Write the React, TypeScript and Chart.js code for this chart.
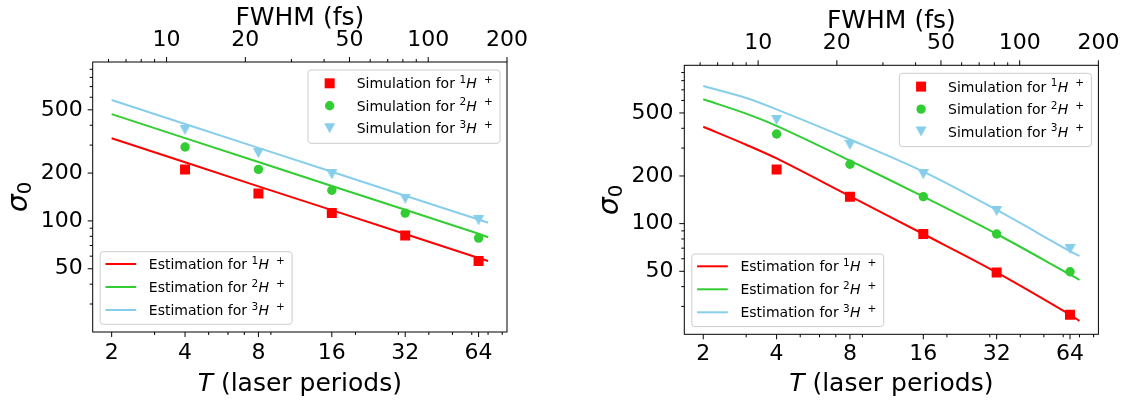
import React, { useEffect, useRef } from 'react';
import { Chart, registerables } from 'chart.js';

Chart.register(...registerables);

// ---------------- data ----------------
const T_TICKS = [2, 4, 8, 16, 32, 64];
const FWHM_TICKS = [10, 20, 50, 100, 200];
const SIGMA_TICKS = [50, 100, 200, 500];
const T_MINOR = [3, 5, 6, 7, 9, 20, 30, 40, 50, 60, 70, 80];
const FWHM_MINOR = [6, 7, 8, 9, 30, 40, 60, 70, 80, 90];
const SIGMA_MINOR = [30, 40, 60, 70, 80, 90, 300, 400, 600, 700, 800, 900];

const ISOTOPES = ['1', '2', '3'];

const T_SIM = [4, 8, 16, 32, 64];

// left panel
const simA_H1 = [211, 149, 112, 81, 56];
const simA_H2 = [292, 211, 156, 112, 78];
const simA_H3 = [374, 267, 196, 138, 101];
const T_EST_A = [2, 4, 8, 16, 32, 64, 70];
const estA_H1 = [331, 234, 165, 117, 82.7, 58.4, 56];
const estA_H2 = [470, 332, 235, 166, 117.5, 83, 79];
const estA_H3 = [576, 407, 288, 204, 144, 102, 97.3];

// right panel
const simB_H1 = [220, 148, 86, 49.2, 26.6];
const simB_H2 = [368, 237, 148, 86, 49.7];
const simB_H3 = [451, 314, 205, 120, 68.9];
const T_EST_B = [2, 3, 4, 8, 16, 32, 64, 70];
const estB_H1 = [409, 315, 258, 149, 86, 49.2, 26.6, 24.3];
const estB_H2 = [610, 495, 414, 250, 148, 86, 47.7, 44.2];
const estB_H3 = [740, 622, 527, 340, 213, 122, 67, 62.5];

// ---------------- style ----------------
const RED = '#ff0000';
const GREEN = '#32cd32';
const BLUE = '#87ceeb';
const COLORS = [RED, GREEN, BLUE];
const FONT = '"DejaVu Sans", sans-serif';
const H = 401;

type Panel = {
  sim: number[][];
  estT: number[];
  est: number[][];
  smooth: number;
  canvasLeft: number;
  canvasWidth: number;
  ca: { l: number; r: number; t: number; b: number };
  pad: { x: number; x2: number; y: number };
  titles: { xBase: number; x2Base: number; yCx: number };
};

const LEFT: Panel = {
  sim: [simA_H1, simA_H2, simA_H3],
  estT: T_EST_A,
  est: [estA_H1, estA_H2, estA_H3],
  smooth: 0,
  canvasLeft: 0,
  canvasWidth: 565,
  ca: { l: 92.7, r: 507, t: 62, b: 332 },
  pad: { x: 10, x2: 10.5, y: 10 },
  titles: { xBase: 391, x2Base: 24.5, yCx: 21 },
};

const RIGHT: Panel = {
  sim: [simB_H1, simB_H2, simB_H3],
  estT: T_EST_B,
  est: [estB_H1, estB_H2, estB_H3],
  smooth: 0.35,
  canvasLeft: 565,
  canvasWidth: 600,
  ca: { l: 119.3, r: 533.4, t: 65.3, b: 334.3 },
  pad: { x: 9.4, x2: 11, y: 10.7 },
  titles: { xBase: 391, x2Base: 28.4, yCx: 47.6 },
};

function makeTriangle(color: string) {
  const c = document.createElement('canvas');
  c.width = 11;
  c.height = 10;
  const g = c.getContext('2d')!;
  g.fillStyle = color;
  g.beginPath();
  g.moveTo(0, 0);
  g.lineTo(11, 0);
  g.lineTo(5.5, 10);
  g.closePath();
  g.fill();
  return c;
}

function drawMarker(ctx: CanvasRenderingContext2D, k: number, x: number, y: number) {
  ctx.fillStyle = COLORS[k];
  ctx.beginPath();
  if (k === 0) {
    ctx.rect(x - 5, y - 5, 10, 10);
  } else if (k === 1) {
    ctx.arc(x, y, 4.7, 0, Math.PI * 2);
  } else {
    ctx.moveTo(x - 5.5, y - 5);
    ctx.lineTo(x + 5.5, y - 5);
    ctx.lineTo(x, y + 5);
    ctx.closePath();
  }
  ctx.fill();
}

function mathLabel(ctx: CanvasRenderingContext2D, prefix: string, iso: string, x: number, base: number, draw: boolean) {
  let cx = x;
  ctx.font = `14px ${FONT}`;
  if (draw) ctx.fillText(prefix, cx, base);
  cx += ctx.measureText(prefix).width;
  ctx.font = `10.5px ${FONT}`;
  if (draw) ctx.fillText(iso, cx, base - 5.5);
  cx += ctx.measureText(iso).width + 0.3;
  ctx.font = `italic 14px ${FONT}`;
  if (draw) ctx.fillText('H', cx, base);
  cx += ctx.measureText('H').width + 7;
  ctx.font = `10.5px ${FONT}`;
  if (draw) ctx.fillText('+', cx, base - 5.5);
  cx += ctx.measureText('+').width;
  return cx - x;
}

function roundRect(ctx: CanvasRenderingContext2D, x: number, y: number, w: number, h: number, r: number) {
  ctx.beginPath();
  ctx.moveTo(x + r, y);
  ctx.lineTo(x + w - r, y);
  ctx.arcTo(x + w, y, x + w, y + r, r);
  ctx.lineTo(x + w, y + h - r);
  ctx.arcTo(x + w, y + h, x + w - r, y + h, r);
  ctx.lineTo(x + r, y + h);
  ctx.arcTo(x, y + h, x, y + h - r, r);
  ctx.lineTo(x, y + r);
  ctx.arcTo(x, y, x + r, y, r);
  ctx.closePath();
}

function legendBox(ctx: CanvasRenderingContext2D, x: number, y: number, w: number, h: number) {
  roundRect(ctx, x, y, w, h, 3);
  ctx.fillStyle = 'rgba(255,255,255,0.8)';
  ctx.fill();
  ctx.strokeStyle = '#cccccc';
  ctx.lineWidth = 1;
  ctx.stroke();
}

function makeDecor(panel: Panel) {
  return {
    id: 'decor',
    afterDraw(chart: any) {
      const ctx: CanvasRenderingContext2D = chart.ctx;
      const ca = chart.chartArea;
      const xs = chart.scales.x;
      const x2 = chart.scales.x2;
      const ys = chart.scales.y;
      ctx.save();
      // frame
      ctx.strokeStyle = '#000';
      ctx.lineWidth = 1;
      ctx.strokeRect(ca.left, ca.top, ca.right - ca.left, ca.bottom - ca.top);
      const seg = (a: number, b: number, c: number, d: number) => {
        ctx.beginPath();
        ctx.moveTo(a, b);
        ctx.lineTo(c, d);
        ctx.stroke();
      };
      const inX = (p: number) => p >= ca.left - 0.5 && p <= ca.right + 0.5;
      const inY = (p: number) => p >= ca.top - 0.5 && p <= ca.bottom + 0.5;
      T_MINOR.forEach((v) => { const p = xs.getPixelForValue(v); if (inX(p)) seg(p, ca.bottom, p, ca.bottom + 3); });
      T_TICKS.forEach((v) => { const p = xs.getPixelForValue(v); if (inX(p)) seg(p, ca.bottom, p, ca.bottom + 5); });
      FWHM_MINOR.forEach((v) => { const p = x2.getPixelForValue(v); if (inX(p)) seg(p, ca.top, p, ca.top - 3); });
      FWHM_TICKS.forEach((v) => { const p = x2.getPixelForValue(v); if (inX(p)) seg(p, ca.top, p, ca.top - 5); });
      SIGMA_MINOR.forEach((v) => { const p = ys.getPixelForValue(v); if (inY(p)) seg(ca.left, p, ca.left - 3, p); });
      SIGMA_TICKS.forEach((v) => { const p = ys.getPixelForValue(v); if (inY(p)) seg(ca.left, p, ca.left - 5, p); });

      // legends
      ctx.textBaseline = 'alphabetic';
      ctx.textAlign = 'left';
      // simulation legend (upper right)
      let tw = mathLabel(ctx, 'Simulation for ', '3', 0, 0, false);
      let w = 48.7 + tw + 7.3;
      let lh = 73.3;
      let lx = ca.right - 7 - w;
      let ly = ca.top + 8;
      legendBox(ctx, lx, ly, w, lh);
      ISOTOPES.forEach((iso, k) => {
        const ry = ly + 13.3 + k * 22.5;
        drawMarker(ctx, k, lx + 21.7, ry);
        ctx.fillStyle = '#000';
        mathLabel(ctx, 'Simulation for ', iso, lx + 48.7, ry + 5, true);
      });
      // estimation legend (lower left)
      tw = mathLabel(ctx, 'Estimation for ', '3', 0, 0, false);
      w = 48.6 + tw + 7.3;
      lh = 72.6;
      lx = ca.left + 7.5;
      ly = ca.bottom - 7.7 - lh;
      legendBox(ctx, lx, ly, w, lh);
      ISOTOPES.forEach((iso, k) => {
        const ry = ly + 12.3 + k * 23;
        ctx.strokeStyle = COLORS[k];
        ctx.lineWidth = 2;
        seg(lx + 5.3, ry, lx + 36, ry);
        ctx.fillStyle = '#000';
        mathLabel(ctx, 'Estimation for ', iso, lx + 48.6, ry + 5, true);
      });

      // axis titles
      ctx.fillStyle = '#000';
      const cx = (ca.left + ca.right) / 2;
      ctx.font = `italic 25px ${FONT}`;
      const wT = ctx.measureText('T').width;
      ctx.font = `25px ${FONT}`;
      const rest = ' (laser periods)';
      const wR = ctx.measureText(rest).width;
      const sx = cx - (wT + wR) / 2;
      ctx.font = `italic 25px ${FONT}`;
      ctx.fillText('T', sx, panel.titles.xBase);
      ctx.font = `25px ${FONT}`;
      ctx.fillText(rest, sx + wT, panel.titles.xBase);

      ctx.textAlign = 'center';
      ctx.fillText('FWHM (fs)', cx, panel.titles.x2Base);

      // sigma_0
      ctx.save();
      ctx.translate(panel.titles.yCx, (ca.top + ca.bottom) / 2);
      ctx.rotate(-Math.PI / 2);
      ctx.textAlign = 'left';
      ctx.font = `italic 28px ${FONT}`;
      const w1 = ctx.measureText('σ').width;
      ctx.font = `19.6px ${FONT}`;
      const w2 = ctx.measureText('0').width;
      const x0 = -(w1 + w2) / 2;
      ctx.font = `italic 28px ${FONT}`;
      ctx.fillText('σ', x0, 5.65);
      ctx.font = `19.6px ${FONT}`;
      ctx.fillText('0', x0 + w1, 9.75);
      ctx.restore();

      ctx.restore();
    },
  };
}

function PanelChart({ panel }: { panel: Panel }) {
  const ref = useRef<HTMLCanvasElement>(null);
  useEffect(() => {
    const tris = COLORS.map((c) => makeTriangle(c));
    const simStyles: any[] = [
      { pointStyle: 'rect', pointRadius: 7.07 },
      { pointStyle: 'circle', pointRadius: 4.7 },
      { pointStyle: tris[2], pointRadius: 5.5 },
    ];
    const simSets = panel.sim.map((vals, k) => ({
      label: 'sim' + ISOTOPES[k],
      data: T_SIM.map((t, i) => ({ x: t, y: vals[i] })),
      showLine: false,
      backgroundColor: COLORS[k],
      borderColor: COLORS[k],
      borderWidth: 0,
      ...simStyles[k],
      xAxisID: 'x',
      yAxisID: 'y',
    }));
    const estSets = panel.est.map((vals, k) => ({
      label: 'est' + ISOTOPES[k],
      data: panel.estT.map((t, i) => ({ x: t, y: vals[i] })),
      showLine: true,
      borderColor: COLORS[k],
      backgroundColor: COLORS[k],
      borderWidth: 2,
      pointRadius: 0,
      fill: false,
      tension: panel.smooth,
      xAxisID: 'x',
      yAxisID: 'y',
    }));
    const tickFont = { family: FONT, size: 22, lineHeight: 1 };
    const common = {
      grid: { display: false, drawTicks: false, tickLength: 0 },
      border: { display: false },
    };
    const ca = panel.ca;
    const chart = new Chart(ref.current!, {
      type: 'scatter',
      data: { datasets: [...simSets, ...estSets] as any },
      options: {
        animation: false,
        responsive: false,
        maintainAspectRatio: false,
        events: [],
        layout: { padding: { left: 0, top: 0, bottom: 0, right: panel.canvasWidth - ca.r } },
        plugins: { legend: { display: false }, tooltip: { enabled: false }, title: { display: false } },
        scales: {
          x: {
            type: 'logarithmic',
            position: 'bottom',
            min: 1.672,
            max: 83.7,
            ...common,
            ticks: {
              autoSkip: false, maxRotation: 0, minRotation: 0, padding: panel.pad.x,
              color: '#000', font: tickFont, callback: (v: any) => String(v),
            },
            afterBuildTicks: (s: any) => { s.ticks = T_TICKS.map((v) => ({ value: v })); },
            afterFit: (s: any) => { s.height = H - ca.b; },
          },
          x2: {
            type: 'logarithmic',
            axis: 'x',
            position: 'top',
            min: 5.22,
            max: 200,
            ...common,
            ticks: {
              autoSkip: false, maxRotation: 0, minRotation: 0, padding: panel.pad.x2,
              color: '#000', font: tickFont, callback: (v: any) => String(v),
            },
            afterBuildTicks: (s: any) => { s.ticks = FWHM_TICKS.map((v) => ({ value: v })); },
            afterFit: (s: any) => { s.height = ca.t; },
          },
          y: {
            type: 'logarithmic',
            position: 'left',
            min: 20,
            max: 1000,
            ...common,
            ticks: {
              autoSkip: false, padding: panel.pad.y,
              color: '#000', font: tickFont, callback: (v: any) => String(v),
            },
            afterBuildTicks: (s: any) => { s.ticks = SIGMA_TICKS.map((v) => ({ value: v })); },
            afterFit: (s: any) => { s.width = ca.l; },
          },
        } as any,
      },
      plugins: [makeDecor(panel)],
    } as any);
    return () => chart.destroy();
  }, [panel]);
  return (
    <canvas
      ref={ref}
      width={panel.canvasWidth}
      height={H}
      style={{ position: 'absolute', left: panel.canvasLeft, top: 0, width: panel.canvasWidth, height: H }}
    />
  );
}

export default function App() {
  return (
    <div style={{ position: 'fixed', left: 0, top: 0, width: 1130, height: H, overflow: 'hidden', background: '#fff' }}>
      <PanelChart panel={LEFT} />
      <PanelChart panel={RIGHT} />
    </div>
  );
}
